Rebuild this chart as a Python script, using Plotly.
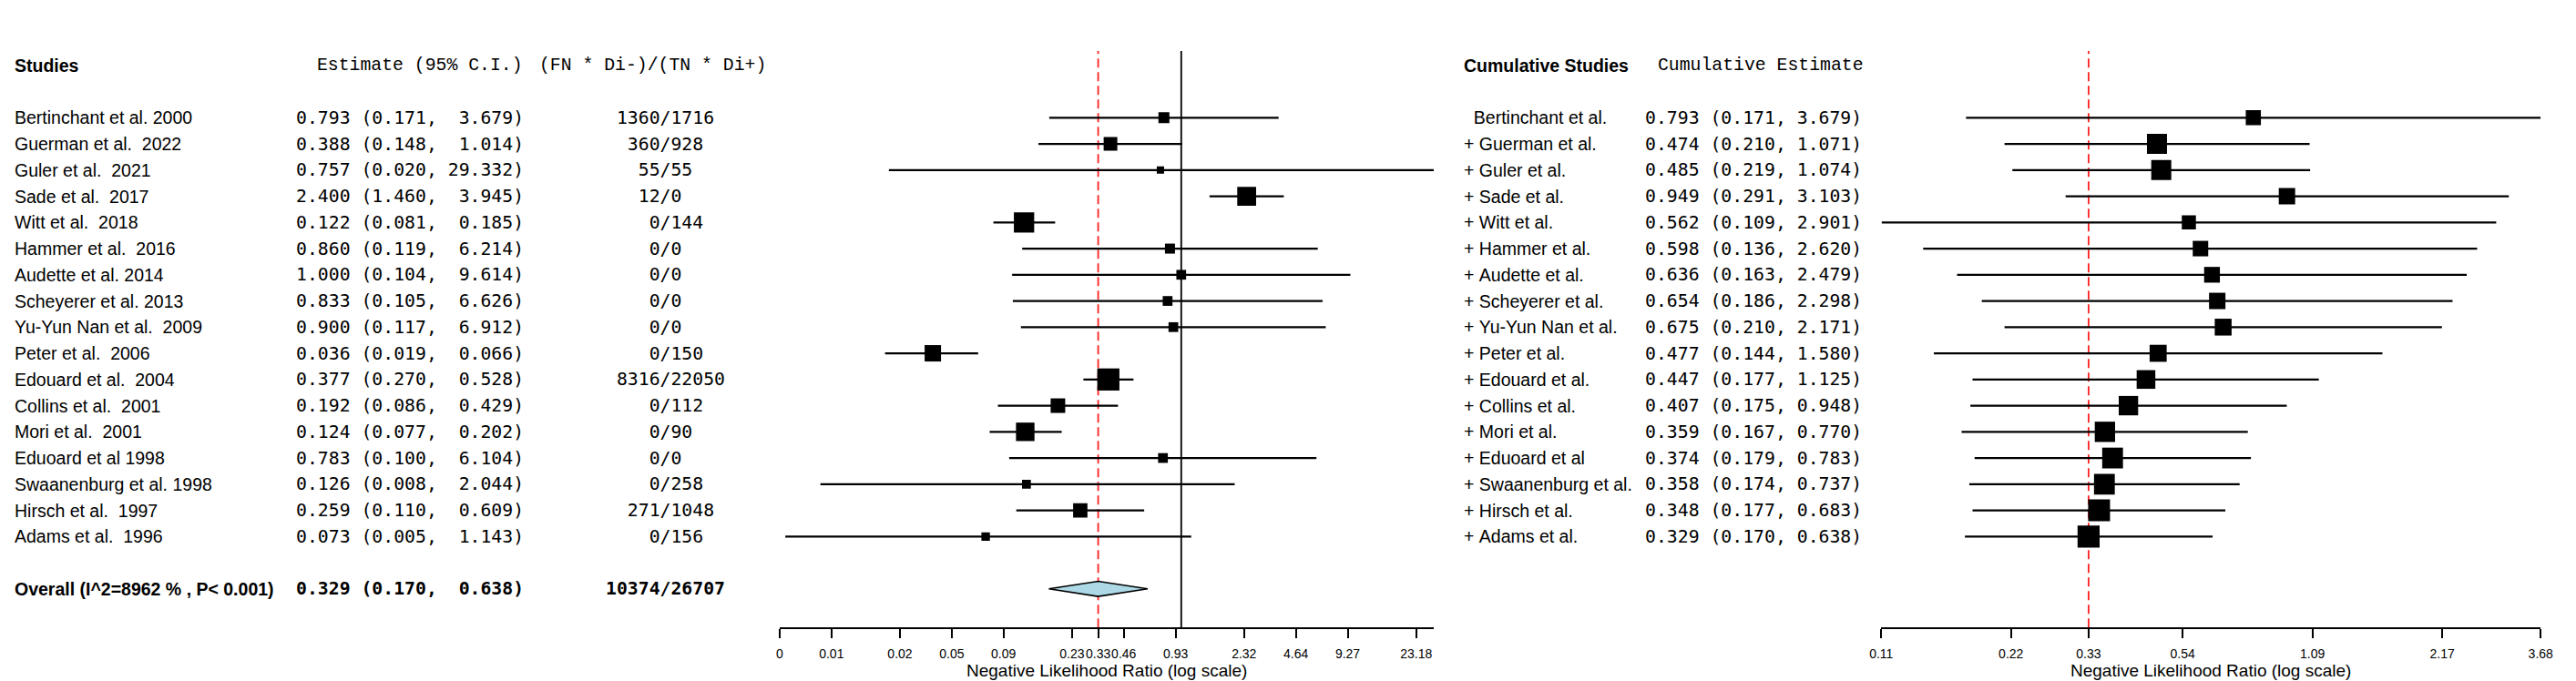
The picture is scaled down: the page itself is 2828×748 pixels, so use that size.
import math
import plotly.graph_objects as go

# ---- per-study negative likelihood ratios ----
studies = ["Bertinchant et al. 2000", "Guerman et al.  2022", "Guler et al.  2021",
           "Sade et al.  2017", "Witt et al.  2018", "Hammer et al.  2016",
           "Audette et al. 2014", "Scheyerer et al. 2013", "Yu-Yun Nan et al.  2009",
           "Peter et al.  2006", "Edouard et al.  2004", "Collins et al.  2001",
           "Mori et al.  2001", "Eduoard et al 1998", "Swaanenburg et al. 1998",
           "Hirsch et al.  1997", "Adams et al.  1996"]
est = [0.793, 0.388, 0.757, 2.400, 0.122, 0.860, 1.000, 0.833, 0.900,
       0.036, 0.377, 0.192, 0.124, 0.783, 0.126, 0.259, 0.073]
ci_low = [0.171, 0.148, 0.020, 1.460, 0.081, 0.119, 0.104, 0.105, 0.117,
          0.019, 0.270, 0.086, 0.077, 0.100, 0.008, 0.110, 0.005]
ci_high = [3.679, 1.014, 29.332, 3.945, 0.185, 6.214, 9.614, 6.626, 6.912,
           0.066, 0.528, 0.429, 0.202, 6.104, 2.044, 0.609, 1.143]
fn_di = [1360, 360, 55, 12, 0, 0, 0, 0, 0, 0, 8316, 0, 0, 0, 0, 271, 0]
tn_di = [1716, 928, 55, 0, 144, 0, 0, 0, 0, 150, 22050, 112, 90, 0, 258, 1048, 156]

overall_label = "Overall (I^2=8962 % , P< 0.001)"
overall = [0.329, 0.170, 0.638]   # estimate, lower, upper

# ---- cumulative analysis ----
cum_names = ["Bertinchant et al.", "+ Guerman et al.", "+ Guler et al.", "+ Sade et al.",
             "+ Witt et al.", "+ Hammer et al.", "+ Audette et al.", "+ Scheyerer et al.",
             "+ Yu-Yun Nan et al.", "+ Peter et al.", "+ Edouard et al.", "+ Collins et al.",
             "+ Mori et al.", "+ Eduoard et al", "+ Swaanenburg et al.", "+ Hirsch et al.",
             "+ Adams et al."]
cum_est = [0.793, 0.474, 0.485, 0.949, 0.562, 0.598, 0.636, 0.654, 0.675,
           0.477, 0.447, 0.407, 0.359, 0.374, 0.358, 0.348, 0.329]
cum_low = [0.171, 0.210, 0.219, 0.291, 0.109, 0.136, 0.163, 0.186, 0.210,
           0.144, 0.177, 0.175, 0.167, 0.179, 0.174, 0.177, 0.170]
cum_high = [3.679, 1.071, 1.074, 3.103, 2.901, 2.620, 2.479, 2.298, 2.171,
            1.580, 1.125, 0.948, 0.770, 0.783, 0.737, 0.683, 0.638]

# tick positions / labels of the two log axes
left_ticks = [0.004636, 0.009272, 0.02318, 0.04636, 0.09272, 0.2318, 0.329,
              0.4636, 0.9272, 2.318, 4.636, 9.272, 23.18]
left_ticktext = ["0", "0.01", "0.02", "0.05", "0.09", "0.23", "0.33", "0.46",
                 "0.93", "2.32", "4.64", "9.27", "23.18"]
right_ticks = [0.1087, 0.2174, 0.329, 0.5435, 1.087, 2.174, 3.679]
right_ticktext = ["0.11", "0.22", "0.33", "0.54", "1.09", "2.17", "3.68"]

# 箱子大小（像素），按权重
box_px = [12, 15, 8, 20.7, 22.3, 11, 10.7, 10.7, 10.7, 18, 24.3, 16, 20.3, 10.7, 9.7, 15.7, 9.3]
cum_box_px = [16.6, 22, 22, 18, 15.5, 17, 17.3, 18, 18.5, 18.7, 20.5, 21.3, 22.3, 22.8, 22.8, 24, 24.2]

# page body has an 8px default margin, so the figure is drawn 8px in from the window corner
W, H = 2828, 748
OFF = 8
FW, FH = W - OFF, H - OFF
NB = "\u00a0"
SANS = "Liberation Sans, Arial, sans-serif"
MONO_HEAD = "Liberation Mono, Courier New, monospace"
MONO_NUM = "DejaVu Sans Mono, monospace"
rows = list(range(len(studies)))
overall_row = len(studies) + 1
header_row = -2


def fx(x):
    # window pixel -> paper fraction
    return (x - OFF) / FW


def fy(y):
    return 1 - (y - OFF) / FH


def nb(s):
    return s.replace(" ", NB)


def ci_segments(lo, hi, rr):
    xs, ys = [], []
    for a, b, r in zip(lo, hi, rr):
        xs += [a, b, None]
        ys += [r, r, None]
    return xs, ys


fig = go.Figure()

# 左图：各研究
xs, ys = ci_segments(ci_low, ci_high, rows)
fig.add_trace(go.Scatter(x=xs, y=ys, mode="lines", line=dict(color="black", width=2.2),
                         xaxis="x", yaxis="y", hoverinfo="skip"))
fig.add_trace(go.Scatter(x=est, y=rows, mode="markers", opacity=1,
                         marker=dict(symbol="square", size=box_px, color="#000000",
                                     opacity=1, line=dict(width=0)),
                         xaxis="x", yaxis="y"))
dh = 0.29
fig.add_trace(go.Scatter(x=[overall[1], overall[0], overall[2], overall[0], overall[1]],
                         y=[overall_row, overall_row - dh, overall_row, overall_row + dh, overall_row],
                         mode="lines", fill="toself", fillcolor="#ADD8E6",
                         line=dict(color="black", width=1.6), xaxis="x", yaxis="y"))

# 右图：累积
xs, ys = ci_segments(cum_low, cum_high, rows)
fig.add_trace(go.Scatter(x=xs, y=ys, mode="lines", line=dict(color="black", width=2.2),
                         xaxis="x2", yaxis="y", hoverinfo="skip"))
fig.add_trace(go.Scatter(x=cum_est, y=rows, mode="markers", opacity=1,
                         marker=dict(symbol="square", size=cum_box_px, color="#000000",
                                     opacity=1, line=dict(width=0)),
                         xaxis="x2", yaxis="y"))

shapes = [
    dict(type="line", xref="x", yref="y domain", x0=1, x1=1, y0=0, y1=1,
         line=dict(color="black", width=1.8), layer="below"),
    dict(type="line", xref="x", yref="y domain", x0=overall[0], x1=overall[0], y0=0, y1=1,
         line=dict(color="#FF2020", width=1.8, dash="10px,5px"), layer="below"),
    dict(type="line", xref="x2", yref="y domain", x0=overall[0], x1=overall[0], y0=0, y1=1,
         line=dict(color="#FF2020", width=1.8, dash="10px,5px"), layer="below"),
]

ann = []


def text(x, y, s, font, size, bold=False):
    ann.append(dict(x=fx(x), y=y, xref="paper", yref="y", text="<b>%s</b>" % s if bold else s,
                    showarrow=False, xanchor="left", yanchor="middle",
                    font=dict(family=font, size=size, color="black")))


# 表头
text(1, header_row, "Studies", SANS, 19.5, bold=True)
text(336, header_row, nb("Estimate (95% C.I.)"), MONO_HEAD, 19.8)
text(582, header_row, nb("(FN * Di-)/(TN * Di+)"), MONO_HEAD, 19.8)
text(1607, header_row, "Cumulative Studies", SANS, 19.5, bold=True)
text(1822, header_row, nb("Cumulative Estimate"), MONO_HEAD, 19.8)

for i in rows:
    text(1, i, nb(studies[i]), SANS, 19.5)
    text(312.5, i, nb("%.3f (%.3f, %6.3f)" % (est[i], ci_low[i], ci_high[i])), MONO_NUM, 19.8)
    text(656, i, nb("%5d/%d" % (fn_di[i], tn_di[i])), MONO_NUM, 19.8)
    name = cum_names[i] if cum_names[i].startswith("+") else "  " + cum_names[i]
    text(1607, i, nb(name), SANS, 19.5)
    text(1808, i, nb("%.3f (%.3f, %.3f)" % (cum_est[i], cum_low[i], cum_high[i])), MONO_NUM, 19.8)

text(1, overall_row, overall_label, SANS, 19.5, bold=True)
text(312.5, overall_row, nb("%.3f (%.3f, %6.3f)" % tuple(overall)), MONO_NUM, 19.8, bold=True)
text(656, overall_row, nb("%5d/%d" % (sum(fn_di), sum(tn_di))), MONO_NUM, 19.8, bold=True)

# 坐标轴标题
for cx in [(851 + 1576) / 2, (2072 + 2803) / 2]:
    ann.append(dict(x=fx(cx), y=fy(736.5), xref="paper", yref="paper",
                    text="Negative Likelihood Ratio (log scale)", showarrow=False,
                    xanchor="center", yanchor="middle",
                    font=dict(family=SANS, size=19, color="black")))

axis_style = dict(type="log", showgrid=False, zeroline=False, showline=True, linecolor="black",
                  linewidth=1.8, ticks="outside", ticklen=10, tickwidth=1.8, tickcolor="black",
                  tickmode="array", tickangle=0, tickfont=dict(family=SANS, size=14, color="black"),
                  ticklabelstandoff=5, anchor="y")

fig.update_layout(
    width=FW, height=FH, autosize=False,
    margin=dict(l=0, r=0, t=0, b=0),
    paper_bgcolor="white", plot_bgcolor="white",
    showlegend=False,
    xaxis=dict(axis_style, domain=[fx(851), fx(1576)],
               range=[math.log10(0.004636), math.log10(29.332)],
               tickvals=left_ticks, ticktext=left_ticktext),
    xaxis2=dict(axis_style, domain=[fx(2072), fx(2803)],
                range=[math.log10(0.1087), math.log10(3.679)],
                tickvals=right_ticks, ticktext=right_ticktext),
    yaxis=dict(visible=False, range=[19.478, -2.55], domain=[fy(689.3), fy(56)]),
    shapes=shapes,
    annotations=ann,
)

fig.write_html("out.html")
